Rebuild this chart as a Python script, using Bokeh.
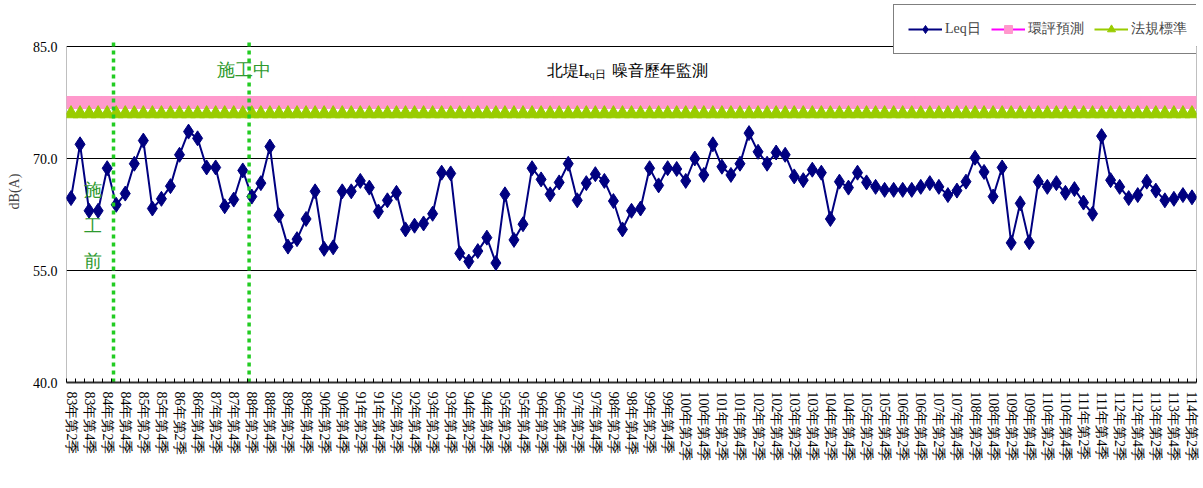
from bokeh.plotting import figure
from bokeh.models import Range1d, FixedTicker, Label, Legend, LegendItem, ColumnDataSource
from bokeh.embed import file_html
from bokeh.resources import INLINE

# ---- data ----
all_quarters = [f"{y}年第{q}季" for y in range(83, 115) for q in (1, 2, 3, 4)]
quarters = all_quarters[all_quarters.index("83年第2季"):all_quarters.index("114年第2季") + 1]

leq = [64.7, 71.9, 63.0, 63.0, 68.7, 63.8, 65.3, 69.3, 72.4, 63.3,
       64.6, 66.3, 70.5, 73.6, 72.7, 68.8, 68.8, 63.6, 64.5, 68.4,
       64.9, 66.7, 71.6, 62.4, 58.2, 59.2, 61.9, 65.6, 57.9, 58.1,
       65.6, 65.6, 67.0, 66.1, 62.9, 64.4, 65.4, 60.5, 61.0, 61.3,
       62.6, 68.1, 68.0, 57.3, 56.2, 57.6, 59.4, 56.0, 65.2, 59.1,
       61.2, 68.7, 67.2, 65.2, 66.8, 69.3, 64.4, 66.7, 67.9, 67.0,
       64.3, 60.5, 63.0, 63.3, 68.7, 66.4, 68.7, 68.6, 67.0, 70.0,
       67.8, 71.9, 68.9, 67.8, 69.3, 73.4, 70.9, 69.3, 70.8, 70.5,
       67.6, 67.1, 68.5, 68.1, 61.9, 66.9, 66.1, 68.1, 66.8, 66.2,
       65.8, 65.8, 65.8, 65.8, 66.2, 66.7, 66.2, 65.1, 65.7, 66.9,
       70.1, 68.2, 64.9, 68.8, 58.7, 64.0, 58.8, 66.9, 66.2, 66.7,
       65.4, 65.9, 64.1, 62.6, 73.0, 67.1, 66.2, 64.7, 65.1, 66.9,
       65.7, 64.4, 64.6, 65.1, 64.8]
eia_value = 77.5      # 環評預測
standard_value = 76.0  # 法規標準
eia = [eia_value] * len(quarters)
standard = [standard_value] * len(quarters)
y_ticks = [40, 55, 70, 85]
phase_marks = ["84年第3季", "88年第2季"]

idx = list(range(len(quarters)))
src = ColumnDataSource(dict(x=idx, q=quarters, leq=leq, eia=eia, std=standard))

SERIF = "Liberation Serif"
Y_MIN, Y_MAX = y_ticks[0], y_ticks[-1]
FRAME_H = 382
PX_PER_UNIT = 336 / (Y_MAX - Y_MIN)
Y_TOP = Y_MIN + FRAME_H / PX_PER_UNIT   # headroom above 85 for the legend
X0, X1 = -0.5, len(quarters) - 0.5

p = figure(frame_width=1130, frame_height=FRAME_H,
           x_range=Range1d(X0, X1), y_range=Range1d(Y_MIN, Y_TOP),
           output_backend="svg", toolbar_location=None,
           min_border_left=66, min_border_right=3, min_border_top=0, min_border_bottom=100,
           background_fill_color="white", border_fill_color="white")
p.outline_line_color = None
p.xgrid.visible = False
p.ygrid.grid_line_color = "black"
p.ygrid.grid_line_width = 1

# plot-area side borders (only from 40 to 85)
p.segment(x0=[X0, X1], y0=[Y_MIN, Y_MIN], x1=[X0, X1], y1=[Y_MAX, Y_MAX],
          line_color="#808080", line_width=1)

# y axis
p.yaxis.ticker = FixedTicker(ticks=y_ticks)
p.yaxis.major_label_overrides = {t: f"{t:.1f}" for t in y_ticks}
p.yaxis.major_label_text_font = SERIF
p.yaxis.major_label_text_font_size = "14px"
p.yaxis.major_label_text_color = "black"
p.yaxis.major_tick_out = 0
p.yaxis.major_tick_in = 0
p.yaxis.minor_tick_out = 0
p.yaxis.minor_tick_in = 0
p.yaxis.major_label_standoff = 9
p.yaxis.axis_line_color = None
p.yaxis.axis_label = "dB(A)"
p.yaxis.axis_label_text_font = SERIF
p.yaxis.axis_label_text_font_size = "14px"
p.yaxis.axis_label_text_font_style = "normal"
p.yaxis.axis_label_standoff = 8

# x axis
label_pos = [i for i in idx if i % 2 == 0]
p.xaxis.ticker = FixedTicker(ticks=label_pos, minor_ticks=[i - 0.5 for i in idx] + [len(idx) - 0.5])
p.xaxis.major_label_overrides = {i: quarters[i] for i in label_pos}
p.xaxis.major_label_orientation = "vertical"
p.xaxis.major_label_text_font = SERIF
p.xaxis.major_label_text_font_size = "14px"
p.xaxis.major_label_text_color = "black"
p.xaxis.major_label_standoff = 9
p.xaxis.major_tick_in = 0
p.xaxis.major_tick_out = 0
p.xaxis.minor_tick_in = 4
p.xaxis.minor_tick_out = 0
p.xaxis.minor_tick_line_color = "black"
p.xaxis.axis_line_color = "#303030"
p.xaxis.axis_line_width = 2

# series
eia_line = p.line("x", "eia", source=src, line_color="#FF00FF", line_width=2)
eia_pts = p.scatter("x", "eia", source=src, marker="square", size=12,
                    fill_color="#FF99CC", line_color="#FF99CC")
std_line = p.line("x", "std", source=src, line_color="#99CC00", line_width=2)
std_pts = p.scatter("x", "std", source=src, marker="triangle", size=14,
                    fill_color="#99CC00", line_color="#99CC00")
leq_line = p.line("x", "leq", source=src, line_color="#000080", line_width=2)
leq_pts = p.scatter("x", "leq", source=src, marker="diamond", size=15,
                    fill_color="#000080", line_color="#000080")

# phase separators (slightly overshooting the plot area top)
mark_x = [quarters.index(q) - 0.3 for q in phase_marks]
p.segment(x0=mark_x, y0=[Y_MIN] * len(mark_x), x1=mark_x, y1=[Y_MAX + 0.6] * len(mark_x),
          line_color="#22CC22", line_width=3.5, line_dash="4 4")

GREEN_TXT = "#2E9A2E"
p.add_layout(Label(x=16.1, y=81.8, text="施工中", text_font=SERIF, text_font_size="18px",
                   text_color=GREEN_TXT, text_baseline="middle"))
for ch, yv in zip("施工前", [65.8, 60.9, 56.3]):
    p.add_layout(Label(x=2.4, y=yv, text=ch, text_font=SERIF, text_font_size="18px",
                       text_color=GREEN_TXT, text_baseline="middle", text_align="center"))

# chart title inside plot (with subscript)
p.add_layout(Label(x=52.6, y=81.8, text="北堤L", text_font=SERIF, text_font_size="16px",
                   text_color="black", text_baseline="middle"))
p.add_layout(Label(x=56.8, y=81.3, text="eq日", text_font=SERIF, text_font_size="11px",
                   text_color="black", text_baseline="middle"))
p.add_layout(Label(x=59.8, y=81.8, text="噪音歷年監測", text_font=SERIF, text_font_size="16px",
                   text_color="black", text_baseline="middle"))

legend = Legend(items=[
    LegendItem(label="Leq日", renderers=[leq_line, leq_pts]),
    LegendItem(label="環評預測", renderers=[eia_line, eia_pts]),
    LegendItem(label="法規標準", renderers=[std_line, std_pts]),
], orientation="horizontal", location=(827, 328))
legend.label_text_font = SERIF
legend.label_text_font_size = "14px"
legend.glyph_width = 34
legend.glyph_height = 20
legend.label_standoff = 3
legend.spacing = 10
legend.padding = 14
legend.margin = 0
legend.border_line_color = "black"
legend.border_line_width = 1
legend.background_fill_color = "white"
legend.background_fill_alpha = 1
p.add_layout(legend, "center")

open("out.html", "w").write(file_html(p, INLINE))
